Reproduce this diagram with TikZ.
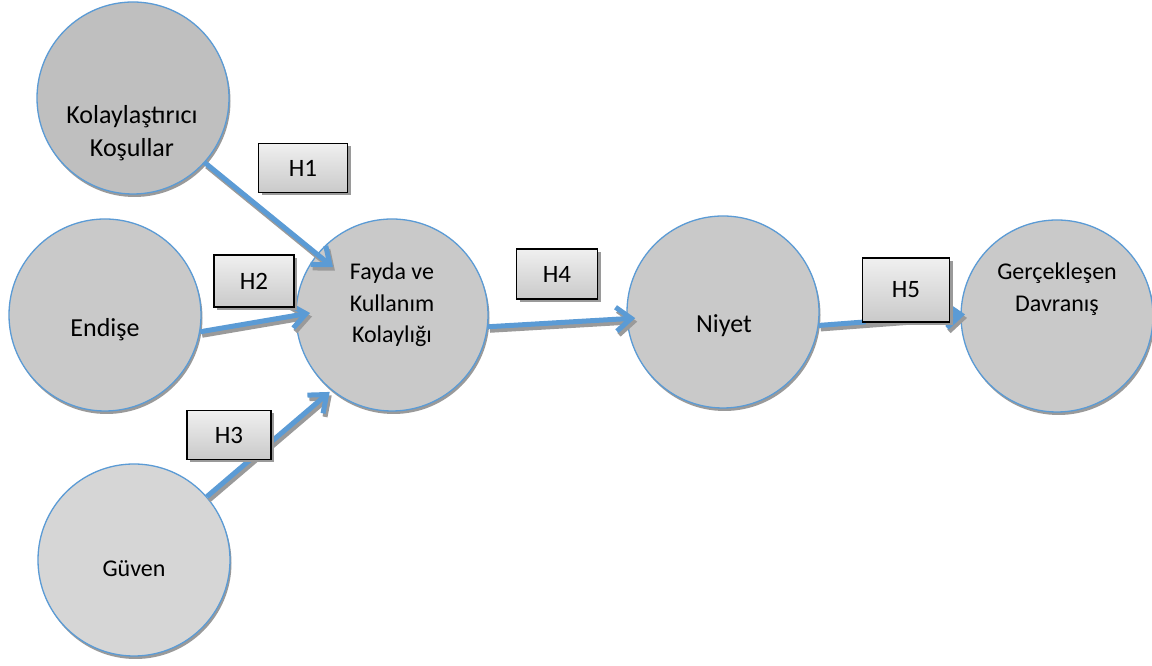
\documentclass[tikz,border=0pt]{standalone}
\usepackage{fontspec}
\setmainfont{Carlito}
\usetikzlibrary{arrows.meta,calc}
\definecolor{cblue}{HTML}{5B9BD5}
\definecolor{cshadow}{HTML}{9A9A9A}
\begin{document}
\begin{tikzpicture}[x=1pt,y=1pt,
  bubble/.style={circle, minimum size=192pt, inner sep=0pt, draw=cblue, line width=1.3pt,
     preaction={fill=cshadow, draw=none, transform canvas={shift={(1.5pt,-3pt)}}}},
  hbox/.style={rectangle, draw=black, line width=1.6pt, inner sep=0pt,
     top color=gray!12, bottom color=gray!42,
     preaction={fill=cshadow, draw=none, transform canvas={shift={(3pt,-3pt)}}},
     font=\fontsize{25}{30}\selectfont},
  big/.style={align=center, font=\fontsize{26}{33}\selectfont},
  mid/.style={align=center, font=\fontsize{24}{31.5}\selectfont},
  tipA/.style={-{Straight Barb[length=15pt,width=24pt]}},
  link/.style={draw=cblue, line width=5pt, tipA},
  linkshadow/.style={draw=cshadow, line width=5pt, tipA,
     transform canvas={shift={(2pt,-3.5pt)}}}
]
\path[use as bounding box, fill=white] (0,0) rectangle (1152,666);

% circles (y = 666 - pixel y)
\node[bubble, fill=black!25] (k) at (133,568) {};
\node[bubble, fill=black!21] (e) at (105,351) {};
\node[bubble, fill=black!16] (g) at (134,106) {};
\node[bubble, fill=black!21] (f) at (392,351) {};
\node[bubble, fill=black!21] (n) at (723,354) {};
\node[bubble, fill=black!21] (d) at (1057,350) {};

% texts
\node[big] (tk) at (132,533) {Kolaylaştırıcı\\Koşullar};
\node[big] (te) at (105,336) {Endişe};
\node[mid] (tg) at (134,97) {Güven};
\node[mid] (tf) at (392,361) {Fayda ve\\Kullanım\\Kolaylığı};
\node[big] (tn) at (724,340) {Niyet};
\node[mid] (td) at (1057,377) {Gerçekleşen\\Davranış};

% arrow shadows
\draw[linkshadow] (k.-42) -- ($(f)+(141:76)$);
\draw[linkshadow] (e.-10) -- ($(f)+(178.6:82)$);
\draw[linkshadow] (g.41) -- ($(f)+(-129:99)$);
\draw[linkshadow] (f.-7.5) -- ($(n)+(-176:88)$);
\draw[linkshadow] (n.-8.8) -- ($(d)+(179:92)$);

% arrows
\draw[link] (k.-42) -- ($(f)+(141:76)$);
\draw[link] (e.-10) -- ($(f)+(178.6:82)$);
\draw[link] (g.41) -- ($(f)+(-129:99)$);
\draw[link] (f.-7.5) -- ($(n)+(-176:88)$);
\draw[link] (n.-8.8) -- ($(d)+(179:92)$);

% hypothesis boxes
\node[hbox, minimum width=89pt, minimum height=49pt] (h1) at (303,498) {H1};
\node[hbox, minimum width=80pt, minimum height=52pt] (h2) at (254,385) {H2};
\node[hbox, minimum width=84pt, minimum height=49pt] (h3) at (229,231) {H3};
\node[hbox, minimum width=81pt, minimum height=50pt] (h4) at (557,392) {H4};
\node[hbox, minimum width=87pt, minimum height=64pt] (h5) at (906,376) {H5};
\end{tikzpicture}
\end{document}
